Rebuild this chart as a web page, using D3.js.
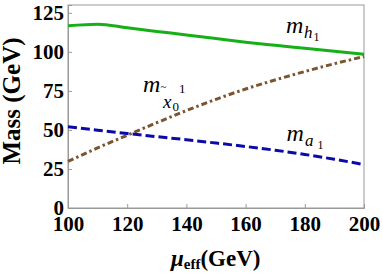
<!DOCTYPE html>
<html><head><meta charset="utf-8">
<script src="https://cdn.jsdelivr.net/npm/d3@7"></script>
<style>body{margin:0;background:#fff}svg{display:block}</style>
</head><body>
<script>
const mu = [100,110,120,130,140,150,160,170,180,190,200];
const mh1 = [116.7,117.7,115.4,113.1,110.8,108.5,106.2,104.2,102.3,100.4,98.5];
const mchi = [29.8,38.5,46.6,54.6,62.4,69.6,76.2,82.0,87.4,92.4,97.0];
const ma1 = [52.0,49.8,47.7,45.7,43.7,41.6,39.4,37.0,34.3,31.2,27.8];
const xTicks = [100,120,140,160,180,200];
const yTicks = [0,25,50,75,100,125];

const W=382,H=273;
const svg=d3.select("body").append("svg").attr("width",W).attr("height",H);
const x=d3.scaleLinear().domain([100,200]).range([68,364]);
const y=d3.scaleLinear().domain([0,130]).range([208,5]);
const serif='"Liberation Serif"';

svg.append("rect").attr("x",x(100)).attr("y",y(130)).attr("width",x(200)-x(100)).attr("height",y(0)-y(130))
  .attr("fill","none").attr("stroke","#999").attr("stroke-width",1);

const gx=svg.append("g").attr("transform",`translate(0,${y(0)})`)
  .call(d3.axisBottom(x).tickValues(xTicks).tickSize(-4).tickPadding(7).tickFormat(d3.format("d")));
const gy=svg.append("g").attr("transform",`translate(${x(100)},0)`)
  .call(d3.axisLeft(y).tickValues(yTicks).tickSize(-4).tickPadding(4).tickFormat(d3.format("d")));
[gx,gy].forEach(g=>{
  g.attr("font-family",serif).attr("font-size",21).attr("font-weight","bold");
  g.select(".domain").attr("stroke","#999");
  g.selectAll(".tick line").attr("stroke","#999");
  g.selectAll(".tick text").attr("font-family",serif).attr("font-weight","bold").attr("font-size",21).attr("fill","#000");
});
gx.selectAll(".tick text").attr("dy","0.74em");
gy.selectAll(".tick text").attr("dy","0.3em");

const line=arr=>d3.line().x((d,i)=>x(mu[i])).y(d=>y(d)).curve(d3.curveMonotoneX)(arr);
svg.append("path").attr("d",line(mh1)).attr("fill","none").attr("stroke","#16b016").attr("stroke-width",3);
svg.append("path").attr("d",line(mchi)).attr("fill","none").attr("stroke","#7a5530").attr("stroke-width",3)
  .attr("stroke-dasharray","6,3,2.5,3");
svg.append("path").attr("d",line(ma1)).attr("fill","none").attr("stroke","#0a0aa8").attr("stroke-width",3)
  .attr("stroke-dasharray","9,4");

function lab(parts){
  parts.forEach(p=>{
    svg.append("text").attr("x",p[0]).attr("y",p[1]).attr("font-family",serif)
      .attr("font-style",p[4]?"italic":"normal").attr("font-size",p[3]).attr("fill","#000").text(p[2]);
  });
}
lab([[286,33,"m",24,1],[304,37.5,"h",17,1],[313.5,40.5,"1",12,0]]);
lab([[286.5,140.5,"m",24,1],[305,146,"a",17,1],[317.5,149,"1",12,0]]);
lab([[143,91.5,"m",24,1],[160.5,90,"~",11,0],[179,92.5,"1",13,0],[163,107.5,"x",19,1],[172.5,111,"0",13,0]]);

const xt=svg.append("text").attr("x",171).attr("y",266).attr("font-family",serif).attr("font-weight","bold").attr("fill","#000");
xt.append("tspan").attr("font-style","italic").attr("font-size",23).text("μ");
xt.append("tspan").attr("font-size",15).attr("dy",3).text("eff");
xt.append("tspan").attr("font-size",23).attr("dy",-3).text("(GeV)");

svg.append("text").attr("transform",`translate(20,101) rotate(-90)`).attr("text-anchor","middle")
  .attr("font-family",serif).attr("font-weight","bold").attr("font-size",25).attr("fill","#000").text("Mass (GeV)");
</script>
</body></html>
